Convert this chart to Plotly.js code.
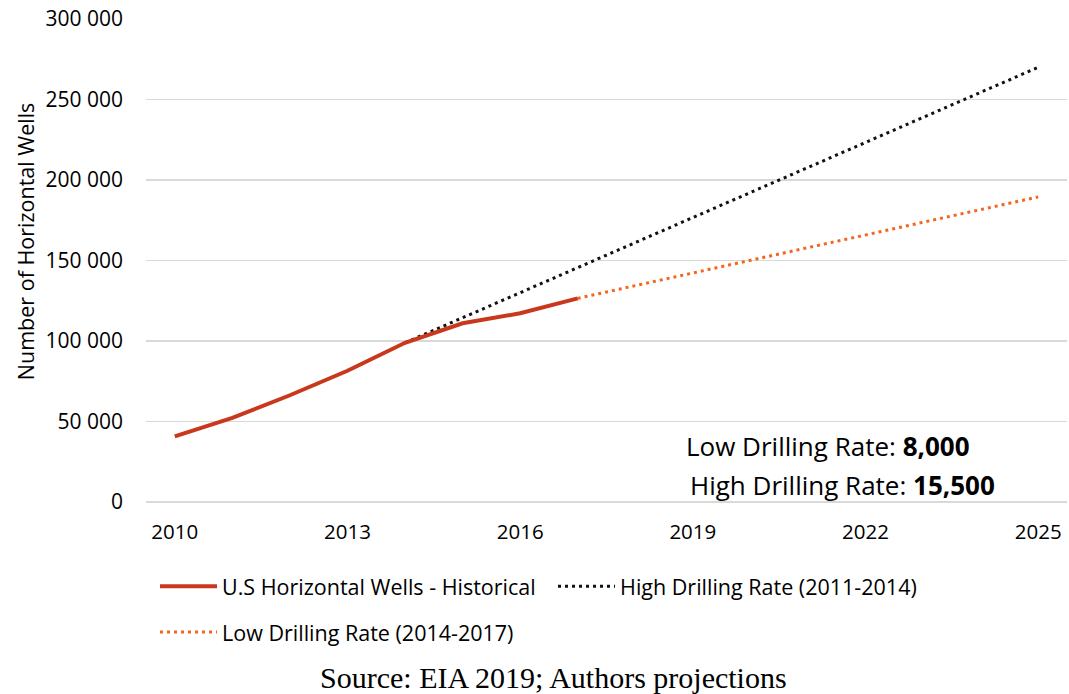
<!DOCTYPE html>
<html>
<head>
<meta charset="utf-8">
<script src="https://cdn.plot.ly/plotly-3.0.1.min.js"></script>
<style>html,body{margin:0;padding:0;background:#fff;}#chart{width:1069px;height:694px;}</style>
</head>
<body>
<div id="chart"></div>
<script>
// Data
const histYears = [2010, 2011, 2012, 2013, 2014, 2015, 2016, 2017];
const histWells = [40700, 52300, 66300, 81500, 98900, 111000, 117200, 126500];

const highYears = [2014, 2015, 2016, 2017, 2018, 2019, 2020, 2021, 2022, 2023, 2024, 2025];
const highWells = [98900, 114450, 130000, 145550, 161100, 176650, 192200, 207750, 223300, 238850, 254400, 270000];

const lowYears = [2017, 2018, 2019, 2020, 2021, 2022, 2023, 2024, 2025];
const lowWells = [126500, 134400, 142250, 150150, 158000, 165900, 173750, 181650, 189500];

const xTicks = [2010, 2013, 2016, 2019, 2022, 2025];
const yTicks = [0, 50000, 100000, 150000, 200000, 250000, 300000];

const seriesNames = ['U.S Horizontal Wells - Historical', 'High Drilling Rate (2011-2014)', 'Low Drilling Rate (2014-2017)'];
const annoLow = 'Low Drilling Rate: <b>8,000</b>';
const annoHigh = 'High Drilling Rate: <b>15,500</b>';
const sourceText = 'Source: EIA 2019; Authors projections';
const yTitle = 'Number of Horizontal Wells';

const FONT = '"Open Sans", Lato, sans-serif';

const traces = [
  {x: highYears, y: highWells, name: seriesNames[1], mode: 'lines',
   line: {color: '#111111', width: 3, dash: '3px,4px'}, legend: 'legend', legendrank: 2},
  {x: lowYears, y: lowWells, name: seriesNames[2], mode: 'lines',
   line: {color: '#F4661F', width: 3, dash: '3px,4px'}, legend: 'legend2'},
  {x: histYears, y: histWells, name: seriesNames[0], mode: 'lines',
   line: {color: '#C9381C', width: 4}, legend: 'legend', legendrank: 1}
];

const layout = {
  width: 1069, height: 694,
  margin: {l: 146, r: 2, t: 19, b: 192},
  paper_bgcolor: '#ffffff', plot_bgcolor: '#ffffff',
  separators: '. ',
  font: {family: FONT, size: 20, color: '#000000'},
  showlegend: true,
  xaxis: {
    range: [2009.5, 2025.5], tickvals: xTicks, ticktext: xTicks.map(String),
    showgrid: false, zeroline: false, showline: false, ticks: '',
    ticklabelstandoff: 15,
    tickfont: {family: FONT, size: 20.5, color: '#000'}
  },
  yaxis: {
    range: [0, 300000], tickvals: yTicks, tickformat: ',d',
    showgrid: true, gridcolor: '#d9d9d9', gridwidth: 1.5,
    zeroline: true, zerolinecolor: '#d9d9d9', zerolinewidth: 1.5,
    showline: false, ticks: '', ticklabelstandoff: 22,
    tickfont: {family: FONT, size: 21, color: '#000'}
  },
  legend: {
    orientation: 'h', x: 0.0098, y: -0.132, xanchor: 'left', yanchor: 'top',
    traceorder: 'normal', entrywidth: 326, entrywidthmode: 'pixels', itemwidth: 57,
    font: {family: FONT, size: 21.5, color: '#000'}, bgcolor: 'rgba(0,0,0,0)'
  },
  legend2: {
    orientation: 'h', x: 0.0098, y: -0.227, xanchor: 'left', yanchor: 'top', itemwidth: 57,
    font: {family: FONT, size: 21.5, color: '#000'}, bgcolor: 'rgba(0,0,0,0)'
  },
  annotations: [
    {xref: 'paper', yref: 'paper', x: -0.1314, y: 0.540, text: yTitle, showarrow: false, textangle: -90,
     xanchor: 'center', yanchor: 'middle', font: {family: FONT, size: 21.5, color: '#000'}},
    {xref: 'paper', yref: 'paper', x: 0.7405, y: 0.116, text: annoLow, showarrow: false,
     xanchor: 'center', yanchor: 'middle', font: {family: FONT, size: 26, color: '#000'}},
    {xref: 'paper', yref: 'paper', x: 0.756, y: 0.035, text: annoHigh, showarrow: false,
     xanchor: 'center', yanchor: 'middle', font: {family: FONT, size: 26, color: '#000'}},
    {xref: 'paper', yref: 'paper', x: 0.442, y: -0.364, text: sourceText, showarrow: false,
     xanchor: 'center', yanchor: 'middle', font: {family: '"Liberation Serif", "Times New Roman", serif', size: 30, color: '#000'}}
  ]
};

Plotly.newPlot('chart', traces, layout, {displayModeBar: false, staticPlot: true});
</script>
</body>
</html>
